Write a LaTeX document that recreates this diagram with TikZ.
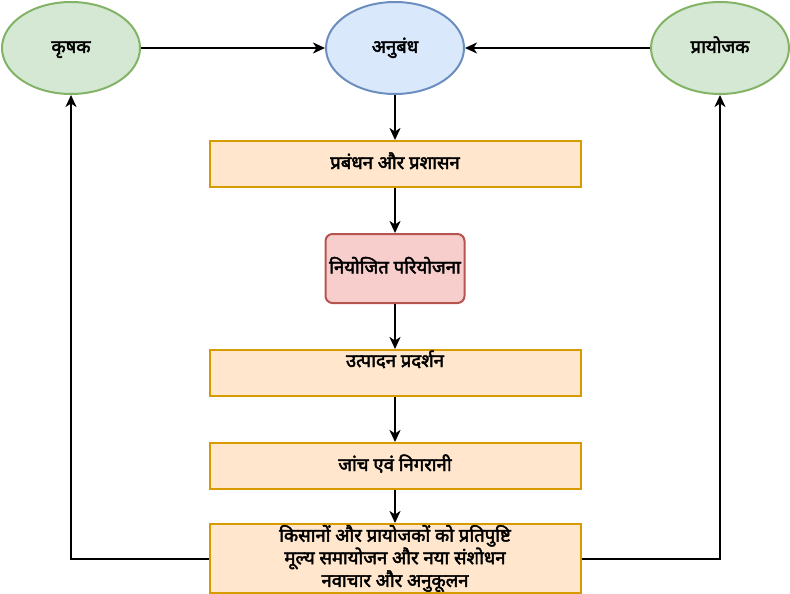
\documentclass[tikz,border=0pt]{standalone}
\usepackage{fontspec}
\setmainfont[Script=Devanagari,BoldFont={Noto Sans},BoldFeatures={FakeBold=2.5}]{Noto Sans}
\usetikzlibrary{arrows.meta,shapes.geometric}
\definecolor{gfill}{HTML}{D5E8D4}\definecolor{gline}{HTML}{82B366}
\definecolor{bfill}{HTML}{DAE8FC}\definecolor{bline}{HTML}{6C8EBF}
\definecolor{ofill}{HTML}{FFE6CC}\definecolor{oline}{HTML}{D79B00}
\definecolor{rfill}{HTML}{F8CECC}\definecolor{rline}{HTML}{B85450}
\tikzset{
  txt/.style={font=\fontsize{18.5}{19}\selectfont\bfseries, align=center, inner sep=0pt},
  oneline/.style={text height=12pt, text depth=2pt},
  ell/.style={ellipse, draw, line width=2pt, minimum width=138pt, minimum height=92pt, txt, oneline},
  greenell/.style={ell, fill=gfill, draw=gline},
  blueell/.style={ell, fill=bfill, draw=bline},
  obox/.style={rectangle, draw=oline, fill=ofill, line width=2pt, minimum width=371pt, minimum height=46pt, txt},
  rbox/.style={rectangle, rounded corners=7pt, draw=rline, fill=rfill, line width=2pt, minimum width=139pt, minimum height=69pt, txt, oneline},
  conn/.style={draw, line width=2pt, -{Stealth[length=12pt,width=11pt,inset=3.5pt]}}
}
\begin{document}
\begin{tikzpicture}[x=1pt,y=-1pt]
\useasboundingbox (0,0) rectangle (790,594);
\node[greenell] (krishak) at (71,48) {कृषक};
\node[blueell] (anubandh) at (395,48) {अनुबंध};
\node[greenell] (prayojak) at (720,48) {प्रायोजक};
\node[obox, oneline] (prabandhan) at (395,164) {प्रबंधन और प्रशासन};
\node[rbox] (niyojit) at (395,268.5) {नियोजित परियोजना};
\node[obox] (utpadan) at (395,373) {};
\node[txt, oneline] (utpadantxt) at (395,362) {उत्पादन प्रदर्शन};
\node[obox, oneline] (janch) at (395,466) {जांच एवं निगरानी};
\node[obox, minimum height=69pt] (kisan) at (395,558.5) {किसानों और प्रायोजकों को प्रतिपुष्टि\\मूल्य समायोजन और नया संशोधन\\नवाचार और अनुकूलन};
\draw[conn] (krishak) -- (anubandh);
\draw[conn] (prayojak) -- (anubandh);
\draw[conn] (anubandh) -- (prabandhan);
\draw[conn] (prabandhan) -- (niyojit);
\draw[conn] (niyojit) -- (utpadan);
\draw[conn] (utpadan) -- (janch);
\draw[conn] (janch) -- (kisan);
\draw[conn] (kisan.west) -| (krishak.south);
\draw[conn] (kisan.east) -| (prayojak.south);
\end{tikzpicture}
\end{document}
